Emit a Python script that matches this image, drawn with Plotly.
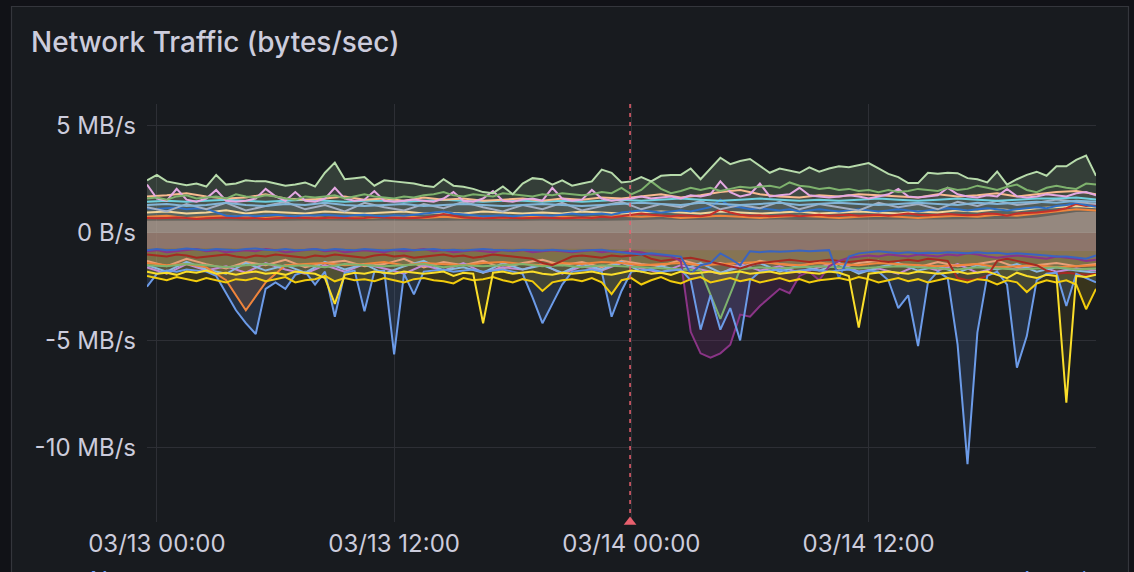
import pandas as pd
import plotly.graph_objects as go

# ---------------- time axes ----------------
T30 = pd.date_range("2024-03-12 23:30", periods=97, freq="30min")   # 30-minute samples
T60 = pd.date_range("2024-03-12 23:30", periods=49, freq="60min")   # hourly samples
X_RANGE = ["2024-03-12 23:30", "2024-03-14 23:30"]
X_TICKS = ["2024-03-13 00:00", "2024-03-13 12:00", "2024-03-14 00:00", "2024-03-14 12:00"]
X_TICK_LABELS = ["03/13 00:00", "03/13 12:00", "03/14 00:00", "03/14 12:00"]
Y_TICKS = [5, 0, -5, -10]
Y_TICK_LABELS = ["5 MB/s", "0 B/s", "-5 MB/s", "-10 MB/s"]
ANNOTATION_TIME = "2024-03-13 23:56"

# ---------------- positive series (MB/s) ----------------
LG = [2.45,2.7,2.4,2.3,2.22,2.3,2.16,2.7,2.25,2.3,
      2.45,2.4,2.4,2.3,2.2,2.25,2.35,2.16,2.8,3.27,
      2.5,2.55,2.6,2.2,2.45,2.4,2.35,2.3,2.2,2.14,
      2.5,2.2,2.15,2.05,1.9,1.85,2.16,1.8,2.3,2.55,
      2.5,2.25,2.45,2.2,2.3,2.4,2.95,2.8,2.35,2.4,
      2.6,2.4,2.66,2.7,2.7,3.0,2.5,3.0,3.5,3.2,
      3.35,3.44,3.1,2.8,3.0,2.9,2.8,3.05,2.85,3.0,
      3.1,3.06,3.15,3.25,3.0,2.75,2.6,2.32,2.32,2.8,
      2.75,2.8,2.78,2.55,2.5,2.35,2.86,2.25,2.5,2.7,
      2.85,2.66,3.1,3.1,3.4,3.6,2.66]
G = [1.6,1.65,1.55,1.7,1.75,1.6,1.65,1.7,1.6,1.8,
     1.7,1.65,1.75,1.7,1.6,1.55,1.7,1.65,1.7,1.75,
     1.6,1.7,1.8,1.7,1.65,1.6,1.7,1.65,1.75,1.8,
     1.9,1.75,1.7,1.8,1.75,1.7,1.85,1.8,1.75,1.7,
     1.8,1.75,1.85,1.8,1.75,1.8,1.9,1.85,2.1,1.8,
     2.0,2.4,2.05,1.85,1.95,2.1,2.0,2.1,1.95,2.05,
     2.15,2.1,2.15,2.2,2.1,2.35,2.2,2.15,2.05,2.1,
     2.0,2.05,1.95,2.0,1.9,2.0,1.9,1.95,2.05,2.0,
     1.95,2.1,2.0,2.05,2.2,2.1,2.0,2.15,2.25,2.0,
     1.9,2.1,2.2,2.1,2.05,2.3,2.25]
P = [2.25,1.6,1.5,2.05,1.55,1.45,1.6,2.0,1.5,1.45,
     1.5,1.6,2.05,1.7,1.5,1.9,1.5,1.45,1.6,2.1,
     1.6,1.5,1.55,1.95,1.5,1.45,1.5,1.55,1.5,1.45,
     1.6,1.9,1.5,1.45,1.6,1.95,1.5,1.45,1.55,1.6,
     1.5,2.1,1.6,1.5,1.55,2.0,1.6,1.5,1.55,1.6,
     1.7,1.6,1.65,1.7,1.6,1.75,1.7,1.8,2.4,1.9,
     1.7,1.8,2.3,1.7,1.75,1.8,2.1,1.75,1.7,1.65,
     1.7,1.75,1.7,1.6,1.7,1.8,2.05,1.7,1.65,1.7,
     1.75,2.1,1.8,1.7,1.65,1.75,1.7,2.05,1.7,1.65,
     1.7,1.8,1.75,1.7,1.85,1.9,1.75]
B = [1.15,1.12,1.15,1.18,1.1,1.15,1.12,0.95,0.8,0.78,
     0.82,0.78,0.8,0.85,0.8,0.78,0.82,0.8,0.85,0.8,
     0.78,0.82,0.85,0.8,0.78,0.82,0.8,0.85,0.9,0.95,
     1.0,0.9,0.85,0.8,0.78,0.8,0.82,0.78,0.8,0.85,
     0.82,0.8,0.85,0.9,0.85,0.88,0.9,0.85,0.95,1.0,
     1.05,1.0,0.95,1.0,1.05,1.0,1.1,1.2,1.55,1.25,
     1.2,1.1,1.15,1.1,1.05,1.1,1.0,1.05,1.1,1.05,
     1.0,1.05,1.1,1.05,1.0,1.05,1.1,1.05,1.0,1.05,
     1.1,1.15,1.1,1.05,1.1,1.15,1.1,1.05,1.1,1.15,
     1.2,1.15,1.25,1.3,1.4,1.3,1.22]
R = [0.7,0.68,0.7,0.72,0.7,0.65,0.68,0.7,0.72,0.7,
     0.68,0.7,0.65,0.68,0.7,0.72,0.7,0.68,0.7,0.72,
     0.7,0.68,0.7,0.75,0.72,0.7,0.68,0.7,0.72,0.78,
     0.88,0.8,0.72,0.7,0.68,0.7,0.72,0.7,0.68,0.7,
     0.72,0.7,0.68,0.7,0.72,0.7,0.75,0.72,0.78,0.85,
     0.9,0.85,0.8,0.78,0.82,0.8,0.78,0.85,1.1,0.95,
     0.85,0.8,0.82,0.78,0.8,0.82,0.78,0.8,0.85,0.8,
     0.82,0.85,0.8,0.82,0.85,0.8,0.85,0.9,0.85,0.82,
     0.85,0.88,0.85,0.82,0.85,0.9,0.88,0.8,0.9,0.92,
     0.95,1.0,1.05,1.15,1.35,1.25,1.3]
S = [1.7,1.75,1.85,1.7,1.6,1.65,1.8,1.6,1.55,1.6,
     1.7,1.55,1.6,1.5,1.65,1.55,1.6,1.5,1.55,1.6,
     1.5,1.6,1.55,1.65,1.6,1.7,1.8,1.65,1.75,1.9,
     2.0,1.8,1.7,1.65,1.75,1.7,1.8,1.75,1.7,1.65,
     1.8,1.7,1.75,1.85,1.7,1.8,1.9,1.95,1.8]
C = [1.45,1.5,1.45,1.5,1.55,1.5,1.45,1.5,1.55,1.5,
     1.45,1.5,1.5,1.45,1.5,1.55,1.5,1.45,1.5,1.5,
     1.45,1.5,1.45,1.5,1.55,1.5,1.55,1.6,1.55,1.5,
     1.55,1.6,1.55,1.5,1.55,1.5,1.55,1.6,1.55,1.5,
     1.55,1.6,1.55,1.5,1.55,1.6,1.6,1.65,1.55]
LB = [1.3,1.35,1.25,1.3,1.4,1.3,1.25,1.35,1.3,1.4,
      1.3,1.25,1.3,1.35,1.25,1.3,1.35,1.3,1.25,1.3,
      1.35,1.3,1.25,1.3,1.35,1.4,1.35,1.3,1.4,1.35,
      1.3,1.35,1.4,1.3,1.35,1.4,1.35,1.3,1.35,1.4,
      1.35,1.3,1.4,1.35,1.4,1.45,1.4,1.5,1.45]
GR = [1.2,1.0,1.35,1.1,1.4,1.05,1.25,1.45,1.1,1.3,
      1.0,1.4,1.2,1.05,1.35,1.15,1.45,1.2,1.0,1.3,
      1.1,1.4,1.05,1.25,1.45,1.1,1.35,1.2,1.5,1.1,
      1.3,1.15,1.45,1.1,1.35,1.2,1.05,1.4,1.2,1.35,
      1.1,1.45,1.25,1.5,1.3,1.4,1.55,1.45,1.35]
T = [0.95,1.0,0.9,0.95,1.05,0.9,1.0,0.95,0.9,1.0,
     0.95,0.9,0.95,1.0,0.9,0.95,0.9,1.0,0.95,0.9,
     0.95,0.9,1.0,0.95,0.9,0.95,1.0,0.95,0.9,1.0,
     0.95,0.9,0.95,1.0,0.9,0.95,1.0,0.95,0.9,1.0,
     0.95,1.05,1.0,1.1,1.05,1.15,1.2,1.25,1.2]
O = [0.75,0.8,0.7,0.75,0.8,0.75,0.7,0.75,0.8,0.7,
     0.75,0.7,0.75,0.8,0.7,0.75,0.7,0.75,0.7,0.75,
     0.8,0.75,0.7,0.75,0.8,0.75,0.8,0.7,0.75,0.8,
     0.75,0.7,0.75,0.8,0.75,0.7,0.75,0.8,0.75,0.7,
     0.75,0.8,0.75,0.85,0.8,0.9,1.0,1.1,1.05]
BASE_POS = [0.57,0.58,0.56,0.57,0.58,0.57,0.56,0.57,0.58,0.57,
            0.56,0.57,0.58,0.57,0.56,0.57,0.58,0.57,0.56,0.57,
            0.58,0.57,0.56,0.57,0.58,0.6,0.62,0.6,0.61,0.62,
            0.6,0.61,0.62,0.6,0.61,0.62,0.6,0.61,0.62,0.63,
            0.62,0.64,0.63,0.65,0.66,0.72,0.85,0.98,1.0]

# ---------------- negative series (MB/s) ----------------
NY1 = [-1.8,-1.9,-1.85,-1.95,-1.8,-1.85,-1.75,-1.9,-1.85,-1.95,
       -1.85,-1.8,-1.9,-1.85,-1.95,-1.8,-1.85,-1.9,-2.1,-3.3,
       -1.95,-1.85,-1.9,-1.8,-1.85,-1.9,-1.8,-1.85,-1.9,-1.85,
       -1.8,-2.0,-1.85,-1.9,-4.2,-1.85,-1.8,-1.9,-1.85,-1.8,
       -1.9,-1.95,-1.85,-1.9,-1.85,-1.8,-1.9,-1.95,-1.85,-1.75,
       -1.8,-1.9,-1.85,-1.95,-1.8,-1.9,-1.85,-1.8,-1.9,-1.85,
       -1.8,-1.9,-1.85,-1.8,-1.9,-1.85,-1.8,-1.85,-1.9,-1.8,
       -1.85,-2.0,-4.4,-1.9,-1.85,-1.8,-1.85,-1.9,-1.8,-1.85,
       -1.9,-1.85,-1.8,-1.9,-1.85,-1.8,-1.95,-2.1,-1.85,-2.0,
       -2.1,-1.95,-2.0,-7.9,-2.0,-2.05,-1.95]
NY2 = [-2.0,-2.1,-2.2,-2.05,-2.15,-2.25,-2.1,-2.2,-2.3,-2.15,
       -2.2,-2.1,-2.25,-2.15,-2.05,-2.3,-2.2,-2.15,-2.0,-2.25,
       -2.1,-2.2,-2.15,-2.25,-2.1,-2.2,-2.3,-2.15,-2.1,-2.2,
       -2.25,-2.35,-2.1,-2.2,-2.15,-2.05,-2.2,-2.3,-2.15,-2.25,
       -2.7,-2.3,-2.2,-2.15,-2.25,-2.1,-2.3,-2.85,-2.2,-2.1,
       -2.4,-2.2,-2.05,-2.25,-2.35,-2.15,-2.05,-2.3,-2.2,-2.1,
       -2.25,-2.15,-2.3,-2.2,-2.1,-2.25,-2.15,-2.3,-2.2,-2.15,
       -2.1,-2.2,-2.05,-2.15,-2.3,-2.2,-2.1,-2.25,-2.15,-2.3,
       -2.2,-2.1,-2.2,-2.3,-2.15,-2.2,-2.4,-2.2,-2.3,-2.75,
       -2.35,-2.2,-2.3,-2.2,-2.4,-3.55,-2.6]
NBS = [-2.5,-1.9,-1.75,-1.8,-1.7,-1.75,-1.8,-2.0,-2.8,-3.6,
       -4.2,-4.7,-2.6,-2.3,-2.6,-1.95,-1.8,-2.4,-1.8,-3.9,
       -1.85,-1.75,-3.64,-1.8,-1.75,-5.65,-1.9,-2.86,-1.8,-1.75,
       -1.7,-1.8,-1.75,-1.7,-1.8,-1.75,-1.7,-1.8,-1.9,-3.0,
       -4.2,-3.3,-2.4,-1.8,-1.75,-1.7,-1.8,-3.9,-2.7,-1.8,
       -1.75,-1.7,-1.8,-1.75,-1.7,-2.2,-4.5,-2.9,-4.5,-3.5,
       -5.0,-2.2,-1.8,-1.75,-1.7,-1.8,-1.75,-1.7,-1.75,-1.8,
       -1.75,-1.7,-1.8,-1.75,-1.8,-2.2,-3.5,-2.9,-5.26,-2.3,
       -1.8,-2.1,-5.2,-10.76,-4.64,-2.0,-1.8,-2.4,-6.27,-4.8,
       -2.2,-1.9,-1.85,-3.4,-1.9,-2.1,-2.3]
NP = [-0.85,-0.8,-0.9,-0.85,-0.8,-0.75,-0.85,-0.8,-0.9,-0.85,
      -0.8,-0.85,-0.75,-0.8,-0.9,-0.85,-0.8,-0.75,-0.85,-0.8,
      -0.9,-0.85,-0.8,-0.85,-0.9,-0.8,-0.85,-0.8,-0.75,-0.85,
      -0.8,-0.9,-0.85,-0.8,-0.85,-0.9,-0.8,-0.85,-0.8,-0.9,
      -0.85,-0.8,-0.85,-0.9,-0.85,-0.8,-0.9,-0.85,-0.9,-0.85,
      -0.9,-1.0,-1.05,-1.1,-1.3,-4.6,-5.6,-5.8,-5.6,-5.2,
      -3.8,-3.9,-3.4,-3.0,-2.6,-2.8,-2.0,-1.8,-2.2,-1.55,
      -1.3,-1.15,-1.1,-1.05,-1.1,-1.0,-1.05,-1.1,-1.0,-1.05,
      -1.1,-1.0,-1.05,-0.95,-1.0,-1.1,-1.15,-1.1,-1.05,-1.1,
      -1.15,-1.2,-1.1,-1.15,-1.2,-1.3,-1.25]
NB = [-0.8,-0.75,-0.8,-0.78,-0.72,-0.75,-0.8,-0.75,-0.78,-0.8,
      -0.75,-0.72,-0.78,-0.8,-0.75,-0.8,-0.78,-0.75,-0.8,-0.75,
      -0.78,-0.8,-0.75,-0.78,-0.82,-0.78,-0.75,-0.8,-0.78,-0.75,
      -0.8,-0.78,-0.82,-0.8,-0.75,-0.78,-0.8,-0.82,-0.78,-0.8,
      -0.82,-0.78,-0.8,-0.85,-0.82,-0.8,-0.78,-0.85,-0.9,-0.95,
      -1.0,-0.95,-1.0,-1.05,-1.1,-1.9,-1.5,-1.4,-0.95,-1.2,
      -1.5,-0.85,-0.9,-0.85,-0.88,-0.85,-0.82,-0.85,-0.82,-0.8,
      -2.1,-1.1,-0.95,-0.9,-0.85,-0.9,-0.95,-0.9,-0.95,-0.92,
      -0.95,-0.9,-0.92,-0.95,-0.9,-0.95,-0.92,-0.98,-0.95,-1.0,
      -1.02,-1.05,-1.1,-1.1,-1.15,-1.2,-1.05]
NR = [-1.0,-1.05,-1.1,-1.0,-1.05,-1.15,-1.1,-1.05,-1.0,-1.1,
      -1.15,-1.05,-1.1,-1.0,-1.05,-1.1,-1.15,-1.05,-1.1,-1.0,
      -1.05,-1.1,-1.15,-1.05,-1.0,-1.1,-1.05,-1.15,-1.1,-1.05,
      -1.0,-1.1,-1.05,-1.15,-1.1,-1.0,-1.05,-1.1,-1.15,-1.2,
      -1.4,-1.5,-1.3,-1.1,-1.05,-1.1,-1.15,-1.05,-1.1,-1.05,
      -1.0,-1.2,-1.3,-1.25,-1.2,-1.15,-1.25,-1.35,-1.45,-1.55,
      -1.65,-1.5,-1.4,-1.35,-1.3,-1.25,-1.3,-1.35,-1.3,-1.25,
      -1.3,-1.35,-1.3,-1.25,-1.3,-1.35,-1.3,-1.25,-1.3,-1.2,
      -1.25,-1.3,-2.1,-2.2,-2.15,-2.0,-1.3,-1.2,-1.3,-1.4,
      -1.5,-1.75,-1.9,-1.85,-1.9,-1.95,-1.9]
NO = [-1.4,-1.5,-1.45,-1.6,-2.2,-3.6,-2.3,-1.5,-1.45,-1.4,
      -1.5,-1.45,-1.35,-1.5,-1.4,-1.45,-1.5,-1.4,-1.35,-1.45,
      -1.5,-1.4,-1.45,-1.35,-1.4,-1.5,-1.45,-1.4,-1.5,-1.45,
      -1.4,-1.35,-1.45,-1.5,-1.4,-1.45,-1.5,-1.4,-1.45,-1.5,
      -1.55,-1.5,-1.45,-1.6,-1.55,-1.5,-1.6,-1.55,-1.5]
NS = [-1.3,-1.55,-1.2,-1.45,-1.65,-1.35,-1.5,-1.25,-1.6,-1.4,
      -1.3,-1.55,-1.45,-1.2,-1.6,-1.35,-1.5,-1.3,-1.65,-1.4,
      -1.25,-1.5,-1.35,-1.6,-1.3,-1.45,-1.55,-1.25,-1.5,-1.4,
      -1.6,-1.3,-1.45,-1.55,-1.35,-1.65,-1.4,-1.3,-1.5,-1.6,
      -1.35,-1.55,-1.45,-1.3,-1.6,-1.5,-1.4,-1.55,-1.45]
NPK = [-1.6,-1.9,-1.45,-1.75,-1.55,-1.85,-1.4,-1.7,-1.9,-1.5,
       -1.8,-1.45,-1.65,-1.9,-1.5,-1.75,-1.4,-1.85,-1.6,-1.7,
       -1.45,-1.9,-1.55,-1.75,-1.4,-1.65,-1.85,-1.5,-1.7,-1.9,
       -1.45,-1.75,-1.55,-1.85,-1.6,-1.4,-1.8,-1.65,-1.9,-1.5,
       -1.75,-1.45,-1.85,-1.6,-1.7,-1.5,-1.8,-1.65,-1.75]
NLB = [-1.5,-1.8,-1.35,-1.7,-1.9,-1.4,-1.75,-1.5,-1.85,-1.35,
       -1.7,-1.45,-1.9,-1.55,-1.3,-1.75,-1.6,-1.85,-1.4,-1.7,
       -1.5,-1.85,-1.45,-1.7,-1.35,-1.8,-1.55,-1.75,-1.4,-1.85,
       -1.6,-1.4,-1.8,-1.5,-1.75,-1.45,-1.9,-1.6,-1.4,-1.75,
       -1.55,-1.85,-1.5,-1.7,-1.45,-1.8,-1.6,-1.75,-1.85]
NGR = [-1.5,-1.55,-1.45,-1.5,-1.6,-1.5,-1.45,-1.55,-1.5,-1.6,
       -1.45,-1.5,-1.55,-1.5,-1.45,-1.6,-1.5,-1.55,-1.5,-1.45,
       -1.55,-1.5,-1.6,-1.5,-1.55,-1.6,-1.65,-1.7,-1.75,-4.0,
       -1.7,-1.6,-1.65,-1.6,-1.55,-1.6,-1.65,-1.6,-1.55,-1.6,
       -1.65,-1.7,-1.6,-1.65,-1.7,-1.65,-1.6,-1.7,-1.65]
BASE_NEG = [-0.72,-0.71,-0.73,-0.72,-0.7,-0.72,-0.73,-0.71,-0.72,-0.73,
            -0.72,-0.71,-0.72,-0.73,-0.72,-0.71,-0.72,-0.73,-0.72,-0.71,
            -0.72,-0.73,-0.72,-0.74,-0.76,-0.78,-0.8,-0.8,-0.8,-0.8,
            -0.8,-0.8,-0.82,-0.8,-0.81,-0.8,-0.82,-0.8,-0.81,-0.8,
            -0.82,-0.8,-0.81,-0.82,-0.8,-0.82,-0.84,-0.85,-0.84]

# fills, in drawing order: (values, time axis, colour, alpha)
FILLS = [
    (LG, T30, "#B7DBAB", 0.18), (G, T30, "#7EB26D", 0.06), (P, T30, "#E5A8E2", 0.05),
    (S, T60, "#F9BA8F", 0.05), (C, T60, "#6ED0E0", 0.05), (LB, T60, "#82B5D8", 0.05),
    (GR, T60, "#A3AFC2", 0.05), (B, T30, "#2F6FC4", 0.05), (T, T60, "#F4D598", 0.06),
    (O, T60, "#EF843C", 0.06), (R, T30, "#C4302B", 0.06), (BASE_POS, T60, "#CDB4AA", 0.46),
    (NB, T30, "#3A64C0", 0.05), (NP, T30, "#8A3486", 0.22), (NR, T30, "#A52A22", 0.06),
    (NO, T60, "#EF843C", 0.18), (NS, T60, "#E8A07A", 0.05), (NPK, T60, "#C18BD6", 0.05),
    (NLB, T60, "#8AB8E0", 0.05), (NGR, T60, "#7EB26D", 0.14), (NBS, T30, "#6C9BE8", 0.16),
    (NY2, T30, "#F2CC0C", 0.15), (NY1, T30, "#FADE2A", 0.08), (BASE_NEG, T60, "#967887", 0.45),
]
# lines drawn above all fills, in drawing order: (values, time axis, colour)
LINES = [
    (O, T60, "#EF843C"), (T, T60, "#F4D598"), (R, T30, "#C4302B"), (B, T30, "#2F6FC4"),
    (GR, T60, "#A3AFC2"), (LB, T60, "#82B5D8"), (C, T60, "#6ED0E0"), (S, T60, "#F9BA8F"),
    (P, T30, "#E5A8E2"), (G, T30, "#7EB26D"), (LG, T30, "#B7DBAB"),
    (NS, T60, "#E8A07A"), (NPK, T60, "#C18BD6"), (NLB, T60, "#8AB8E0"), (NO, T60, "#EF843C"),
    (NGR, T60, "#7EB26D"), (NR, T30, "#A52A22"), (NP, T30, "#8A3486"), (NB, T30, "#3A64C0"),
    (NBS, T30, "#6C9BE8"), (NY2, T30, "#F2CC0C"), (NY1, T30, "#FADE2A"),
]


def rgba(hex_color, a):
    h = hex_color.lstrip("#")
    r, g, b = int(h[0:2], 16), int(h[2:4], 16), int(h[4:6], 16)
    return f"rgba({r},{g},{b},{a})"


fig = go.Figure()
for vals, tx, col, alpha in FILLS:
    if len(vals) != len(tx):
        raise ValueError(f"length mismatch {len(vals)} vs {len(tx)} for {col}")
    fig.add_trace(go.Scatter(
        x=tx, y=vals, mode="lines", fill="tozeroy", fillcolor=rgba(col, alpha),
        line=dict(color=rgba(col, 0), width=0), hoverinfo="skip"))
for vals, tx, col in LINES:
    fig.add_trace(go.Scatter(
        x=tx, y=vals, mode="lines", line=dict(color=col, width=2), hoverinfo="skip"))

Y_MIN, Y_MAX = -13.45, 6.0

# annotation marker (triangle at bottom)
fig.add_trace(go.Scatter(
    x=[pd.Timestamp(ANNOTATION_TIME)], y=[Y_MIN], mode="markers",
    marker=dict(symbol="triangle-up", size=11, color="#E8606E"),
    cliponaxis=False, hoverinfo="skip"))

L, R_, TOP, BOT = 147, 1096, 104, 522
W, H = 1134, 572
pw, ph = R_ - L, BOT - TOP


def px(xp):
    return (xp - L) / pw


def py(yp):
    return (BOT - yp) / ph


fig.update_layout(
    width=W, height=H,
    margin=dict(l=L, r=W - R_, t=TOP, b=H - BOT, pad=0),
    paper_bgcolor="#111217", plot_bgcolor="rgba(0,0,0,0)",
    showlegend=False,
    font=dict(family="Inter, Roboto, sans-serif", color="#ccccdc"),
    xaxis=dict(type="date", range=X_RANGE, tickvals=X_TICKS, ticktext=X_TICK_LABELS,
               showgrid=True, gridcolor="#2d2f35", gridwidth=1, zeroline=False,
               showline=False, ticks="", tickfont=dict(size=24, color="#ccccdc"),
               ticklabelstandoff=5),
    yaxis=dict(range=[Y_MIN, Y_MAX], tickvals=Y_TICKS, ticktext=Y_TICK_LABELS,
               showgrid=True, gridcolor="#2d2f35", gridwidth=1, zeroline=False,
               showline=False, ticks="", tickfont=dict(size=24, color="#ccccdc"),
               ticklabelstandoff=10),
    shapes=[
        dict(type="rect", xref="paper", yref="paper", layer="below",
             x0=px(11.5), x1=px(1128.5), y0=py(590), y1=py(6.5),
             fillcolor="#181b1f", line=dict(color="#34363c", width=1.2)),
        dict(type="line", xref="x", yref="y",
             x0=ANNOTATION_TIME, x1=ANNOTATION_TIME, y0=Y_MIN, y1=Y_MAX,
             line=dict(color="#E8606E", width=1.5, dash="4px,5px")),
    ],
    annotations=[
        dict(text="Network Traffic (bytes/sec)", xref="paper", yref="paper",
             x=px(29), y=py(42), xanchor="left", yanchor="middle", showarrow=False,
             font=dict(size=28, color="#ccccdc", weight=500)),
        dict(text="Name", xref="paper", yref="paper", x=px(88), y=py(564),
             xanchor="left", yanchor="top", showarrow=False,
             font=dict(size=24, color="#6E9FFF")),
        dict(text="Last *", xref="paper", yref="paper", x=px(1092), y=py(564),
             xanchor="right", yanchor="top", showarrow=False,
             font=dict(size=24, color="#6E9FFF")),
    ],
)

fig.write_html(
    "out.html",
    config={"displayModeBar": False},
    post_script="document.body.style.margin='0';document.body.style.background='#111217';",
)
